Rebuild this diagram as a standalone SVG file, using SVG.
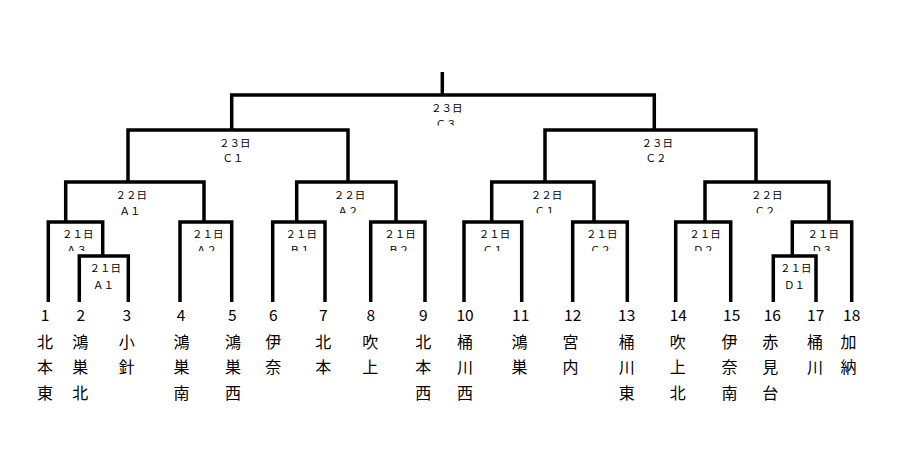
<svg xmlns="http://www.w3.org/2000/svg" width="900" height="471" viewBox="0 0 900 471">
<style>
.ln{fill:none;stroke:#000;stroke-width:3.5;stroke-linejoin:miter;stroke-linecap:butt}
.lb{font-family:"Noto Sans CJK JP","Noto Sans",sans-serif;font-size:10.5px;fill:#000;text-anchor:middle}
.num{font-family:"Noto Sans CJK JP","Noto Sans",sans-serif;font-size:15.5px;fill:#000;text-anchor:middle}
.nm{font-family:"Noto Sans CJK JP",sans-serif;font-size:16px;fill:#000;text-anchor:middle}
</style>
<defs>
<clipPath id="cT" clipPathUnits="userSpaceOnUse"><rect x="0" y="0" width="900" height="125.5"/></clipPath>
<clipPath id="c22" clipPathUnits="userSpaceOnUse"><rect x="0" y="0" width="900" height="213.3"/></clipPath>
<clipPath id="c21" clipPathUnits="userSpaceOnUse"><rect x="0" y="0" width="900" height="251"/></clipPath>
</defs>
<rect width="900" height="471" fill="#fff"/>
<g id="connectors">
<path class="ln" d="M442.3 72V95"/>
<path class="ln" d="M231.7 130V95H654.3V130"/>
<path class="ln" d="M128 182V130H348V182"/>
<path class="ln" d="M545 182V130H756V182"/>
<path class="ln" d="M65.7 222V182H204V222"/>
<path class="ln" d="M296.7 222V182H396V222"/>
<path class="ln" d="M491.7 222V182H594V222"/>
<path class="ln" d="M705 222V182H829V222"/>
<path class="ln" d="M48.3 302V222H102.7V256"/>
<path class="ln" d="M79.3 302V256H128.3V302"/>
<path class="ln" d="M180 302V222H231.7V302"/>
<path class="ln" d="M272.7 302V222H325V302"/>
<path class="ln" d="M370.7 302V222H425V302"/>
<path class="ln" d="M464 302V222H521.7V302"/>
<path class="ln" d="M572.7 302V222H627.3V302"/>
<path class="ln" d="M675.7 302V222H730.7V302"/>
<path class="ln" d="M792.3 256V222H851.7V302"/>
<path class="ln" d="M773.3 302V256H816V302"/>
</g>
<g id="match-C3"><text class="lb" x="446.7" y="112">２３日</text><text class="lb" x="446" y="128" clip-path="url(#cT)">Ｃ３</text></g>
<g id="match-C1-23"><text class="lb" x="234.7" y="146.7">２３日</text><text class="lb" x="233" y="162.3">Ｃ１</text></g>
<g id="match-C2-23"><text class="lb" x="657.2" y="146.7">２３日</text><text class="lb" x="656" y="162.3">Ｃ２</text></g>
<g id="match-A1-22"><text class="lb" x="131.3" y="198.7">２２日</text><text class="lb" x="130" y="214.5">Ａ１</text></g>
<g id="match-A2-22"><text class="lb" x="349.5" y="198.7">２２日</text><text class="lb" x="348" y="214.5" clip-path="url(#c22)">Ａ２</text></g>
<g id="match-C1-22"><text class="lb" x="546.5" y="198.7">２２日</text><text class="lb" x="545" y="214.5" clip-path="url(#c22)">Ｃ１</text></g>
<g id="match-C2-22"><text class="lb" x="766.7" y="198.7">２２日</text><text class="lb" x="765" y="214.5" clip-path="url(#c22)">Ｃ２</text></g>
<g id="match-A3-21"><text class="lb" x="77.8" y="238">２１日</text><text class="lb" x="76.5" y="254" clip-path="url(#c21)">Ａ３</text></g>
<g id="match-A1-21"><text class="lb" x="105.3" y="272">２１日</text><text class="lb" x="103.5" y="288.5">Ａ１</text></g>
<g id="match-A2-21"><text class="lb" x="207.8" y="238">２１日</text><text class="lb" x="206.5" y="254" clip-path="url(#c21)">Ａ２</text></g>
<g id="match-B1-21"><text class="lb" x="301.2" y="238">２１日</text><text class="lb" x="300" y="254" clip-path="url(#c21)">Ｂ１</text></g>
<g id="match-B2-21"><text class="lb" x="400" y="238">２１日</text><text class="lb" x="398.7" y="254" clip-path="url(#c21)">Ｂ２</text></g>
<g id="match-C1-21"><text class="lb" x="494.5" y="238">２１日</text><text class="lb" x="493" y="254" clip-path="url(#c21)">Ｃ１</text></g>
<g id="match-C2-21"><text class="lb" x="601.7" y="238">２１日</text><text class="lb" x="600.5" y="254" clip-path="url(#c21)">Ｃ２</text></g>
<g id="match-D2-21"><text class="lb" x="705" y="238">２１日</text><text class="lb" x="703.5" y="254" clip-path="url(#c21)">Ｄ２</text></g>
<g id="match-D3-21"><text class="lb" x="823.3" y="238">２１日</text><text class="lb" x="822" y="254" clip-path="url(#c21)">Ｄ３</text></g>
<g id="match-D1-21"><text class="lb" x="795.8" y="272">２１日</text><text class="lb" x="794.5" y="288.5">Ｄ１</text></g>
<g id="team-1"><text class="num" x="45" y="320.7">1</text><text class="nm" x="45"><tspan x="45" y="347.5">北</tspan><tspan x="45" y="373">本</tspan><tspan x="45" y="398.5">東</tspan></text></g>
<g id="team-2"><text class="num" x="80.7" y="320.7">2</text><text class="nm" x="80.3"><tspan x="80.3" y="347.5">鴻</tspan><tspan x="80.3" y="373">巣</tspan><tspan x="80.3" y="398.5">北</tspan></text></g>
<g id="team-3"><text class="num" x="126.7" y="320.7">3</text><text class="nm" x="126.7"><tspan x="126.7" y="347.5">小</tspan><tspan x="126.7" y="373">針</tspan></text></g>
<g id="team-4"><text class="num" x="181" y="320.7">4</text><text class="nm" x="181.5"><tspan x="181.5" y="347.5">鴻</tspan><tspan x="181.5" y="373">巣</tspan><tspan x="181.5" y="398.5">南</tspan></text></g>
<g id="team-5"><text class="num" x="232.3" y="320.7">5</text><text class="nm" x="233"><tspan x="233" y="347.5">鴻</tspan><tspan x="233" y="373">巣</tspan><tspan x="233" y="398.5">西</tspan></text></g>
<g id="team-6"><text class="num" x="273.3" y="320.7">6</text><text class="nm" x="273.3"><tspan x="273.3" y="347.5">伊</tspan><tspan x="273.3" y="373">奈</tspan></text></g>
<g id="team-7"><text class="num" x="323.3" y="320.7">7</text><text class="nm" x="323.3"><tspan x="323.3" y="347.5">北</tspan><tspan x="323.3" y="373">本</tspan></text></g>
<g id="team-8"><text class="num" x="370.7" y="320.7">8</text><text class="nm" x="370.3"><tspan x="370.3" y="347.5">吹</tspan><tspan x="370.3" y="373">上</tspan></text></g>
<g id="team-9"><text class="num" x="423.3" y="320.7">9</text><text class="nm" x="423.3"><tspan x="423.3" y="347.5">北</tspan><tspan x="423.3" y="373">本</tspan><tspan x="423.3" y="398.5">西</tspan></text></g>
<g id="team-10"><text class="num" x="465" y="320.7">10</text><text class="nm" x="465"><tspan x="465" y="347.5">桶</tspan><tspan x="465" y="373">川</tspan><tspan x="465" y="398.5">西</tspan></text></g>
<g id="team-11"><text class="num" x="520.7" y="320.7">11</text><text class="nm" x="519.5"><tspan x="519.5" y="347.5">鴻</tspan><tspan x="519.5" y="373">巣</tspan></text></g>
<g id="team-12"><text class="num" x="572.7" y="320.7">12</text><text class="nm" x="570.5"><tspan x="570.5" y="347.5">宮</tspan><tspan x="570.5" y="373">内</tspan></text></g>
<g id="team-13"><text class="num" x="626.7" y="320.7">13</text><text class="nm" x="626.7"><tspan x="626.7" y="347.5">桶</tspan><tspan x="626.7" y="373">川</tspan><tspan x="626.7" y="398.5">東</tspan></text></g>
<g id="team-14"><text class="num" x="678.3" y="320.7">14</text><text class="nm" x="677.8"><tspan x="677.8" y="347.5">吹</tspan><tspan x="677.8" y="373">上</tspan><tspan x="677.8" y="398.5">北</tspan></text></g>
<g id="team-15"><text class="num" x="731.7" y="320.7">15</text><text class="nm" x="729.5"><tspan x="729.5" y="347.5">伊</tspan><tspan x="729.5" y="373">奈</tspan><tspan x="729.5" y="398.5">南</tspan></text></g>
<g id="team-16"><text class="num" x="772.3" y="320.7">16</text><text class="nm" x="770.3"><tspan x="770.3" y="347.5">赤</tspan><tspan x="770.3" y="373">見</tspan><tspan x="770.3" y="398.5">台</tspan></text></g>
<g id="team-17"><text class="num" x="815.7" y="320.7">17</text><text class="nm" x="815"><tspan x="815" y="347.5">桶</tspan><tspan x="815" y="373">川</tspan></text></g>
<g id="team-18"><text class="num" x="851.7" y="320.7">18</text><text class="nm" x="848.5"><tspan x="848.5" y="347.5">加</tspan><tspan x="848.5" y="373">納</tspan></text></g>
</svg>
